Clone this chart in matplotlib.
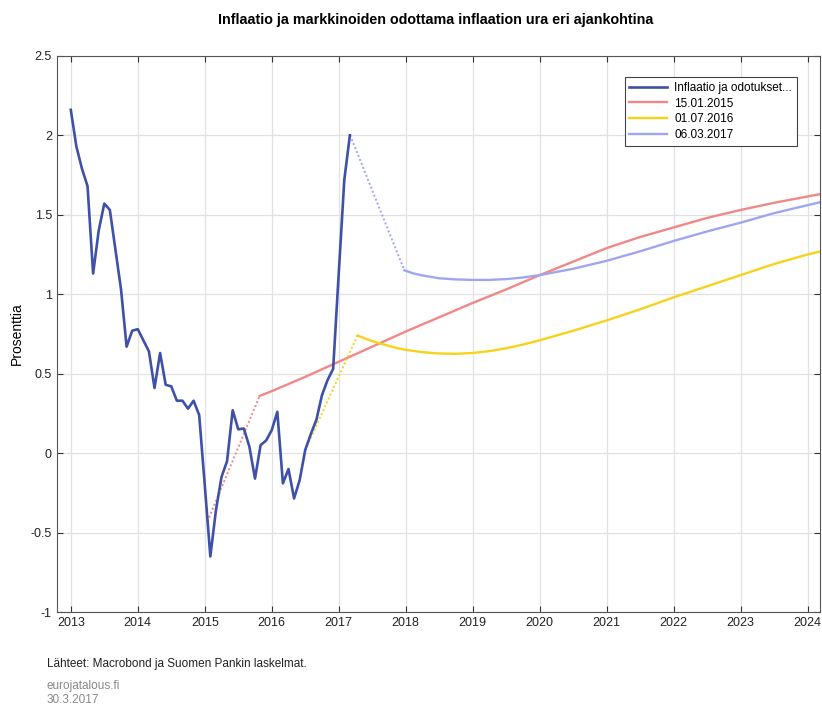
import numpy as np
import matplotlib
matplotlib.use("Agg")
import matplotlib.pyplot as plt

plt.rcParams['font.family'] = ['Liberation Sans', 'DejaVu Sans']

# toteutunut inflaatio, kuukausittain 1/2013 - 3/2017
infl_start = 2013.0
infl = [2.16, 1.93, 1.79, 1.68, 1.13, 1.40, 1.57, 1.53, 1.28, 1.03, 0.67, 0.77,
        0.78, 0.71, 0.64, 0.41, 0.63, 0.43, 0.42, 0.33, 0.33, 0.28, 0.33, 0.24,
        -0.20, -0.65, -0.36, -0.15, -0.05, 0.27, 0.15, 0.155, 0.04, -0.16, 0.05, 0.08,
        0.145, 0.26, -0.19, -0.10, -0.285, -0.17, 0.02, 0.12, 0.21, 0.365, 0.46, 0.53,
        1.13, 1.72, 2.00]

# markkinoiden odotukset eri ajankohtina
red_label = "15.01.2015"
red_start = (2015.04, -0.43)
red_x = [2015.82, 2016.0, 2016.5, 2017.0, 2017.5, 2018.0, 2018.5, 2019.0, 2019.5,
         2020.0, 2020.5, 2021.0, 2021.5, 2022.0, 2022.5, 2023.0, 2023.5, 2024.0, 2024.2]
red_y = [0.36, 0.39, 0.48, 0.575, 0.67, 0.765, 0.855, 0.945, 1.03,
         1.12, 1.205, 1.29, 1.36, 1.42, 1.48, 1.53, 1.575, 1.615, 1.63]

yel_label = "01.07.2016"
yel_start = (2016.5, 0.02)
yel_x = [2017.28, 2017.4, 2017.5, 2017.62, 2017.75, 2017.88, 2018.0, 2018.25, 2018.5,
         2018.75, 2019.0, 2019.25, 2019.5, 2019.75, 2020.0, 2020.5,
         2021.0, 2021.5, 2022.0, 2022.5, 2023.0, 2023.5, 2024.0, 2024.2]
yel_y = [0.74, 0.72, 0.705, 0.69, 0.675, 0.66, 0.65, 0.635, 0.627,
         0.625, 0.63, 0.642, 0.66, 0.683, 0.71, 0.77,
         0.835, 0.905, 0.98, 1.05, 1.12, 1.19, 1.25, 1.27]

lb_label = "06.03.2017"
lb_start = (2017.17, 2.0)
lb_x = [2017.98, 2018.12, 2018.25, 2018.5, 2018.75, 2019.0, 2019.25, 2019.5, 2019.75,
        2020.0, 2020.5, 2021.0, 2021.5, 2022.0, 2022.5, 2023.0, 2023.5, 2024.0, 2024.2]
lb_y = [1.15, 1.13, 1.118, 1.10, 1.093, 1.09, 1.09, 1.095, 1.105,
        1.12, 1.16, 1.21, 1.27, 1.335, 1.395, 1.45, 1.51, 1.56, 1.58]

years = list(range(2013, 2025))
yticks = [-1, -0.5, 0, 0.5, 1, 1.5, 2, 2.5]
ytick_labels = ["-1", "-0.5", "0", "0.5", "1", "1.5", "2", "2.5"]

c_blue = "#3f50a8"
c_red = "#f08888"
c_yel = "#f7d21a"
c_lb = "#a0a6ee"

fig = plt.figure(figsize=(8.22, 7.06), dpi=100)
ax = fig.add_axes([0.069, 0.133, 0.929, 0.788])

infl_x = infl_start + np.arange(len(infl)) / 12.0


# ennuste: katkoviiva alkupisteestä, sitten yhtenäinen käyrä
def plotForecast(start, xs, ys, color, label):
    ax.plot([start[0], xs[0]], [start[1], ys[0]], color=color, lw=1.4,
            ls=(0, (1, 1.2)), zorder=2)
    ax.plot(xs, ys, color=color, lw=1.7, label=label, zorder=2)


ax.plot(infl_x, infl, color=c_blue, lw=1.9, label="Inflaatio ja odotukset...",
        zorder=3)
plotForecast(red_start, red_x, red_y, c_red, red_label)
plotForecast(yel_start, yel_x, yel_y, c_yel, yel_label)
plotForecast(lb_start, lb_x, lb_y, c_lb, lb_label)

ax.set_xlim(2012.79, 2024.19)
ax.set_ylim(-1, 2.5)
ax.set_xticks(years)
ax.set_xticklabels([str(y) for y in years])
ax.set_yticks(yticks)
ax.set_yticklabels(ytick_labels)
ax.grid(True, color="#e2e2e2", lw=0.9)
ax.set_axisbelow(True)
ax.tick_params(direction="in", length=4, width=0.8, color="#333333",
               top=True, right=True, labelsize=9, labelcolor="#222222")
for s in ax.spines.values():
    s.set_color("#555555")
    s.set_linewidth(0.8)
ax.set_ylabel("Prosenttia", fontsize=10, labelpad=5)

leg = ax.legend(loc="upper right", bbox_to_anchor=(0.969, 0.962), fontsize=8.5,
                handlelength=3.2, fancybox=False, framealpha=1,
                edgecolor="#444444", borderpad=0.4, labelspacing=0.33,
                handletextpad=0.6, borderaxespad=0)
leg.get_frame().set_linewidth(0.8)

fig.text(0.53, 0.972, "Inflaatio ja markkinoiden odottama inflaation ura eri ajankohtina",
         ha="center", va="center", fontsize=10.3, fontweight="bold")
fig.text(0.057, 0.059, "Lähteet: Macrobond ja Suomen Pankin laskelmat.",
         fontsize=8.5, color="#222222", va="center")
fig.text(0.057, 0.029, "eurojatalous.fi", fontsize=8.5, color="#888888", va="center")
fig.text(0.057, 0.009, "30.3.2017", fontsize=8.5, color="#888888", va="center")

fig.savefig("out.png", dpi=100)
